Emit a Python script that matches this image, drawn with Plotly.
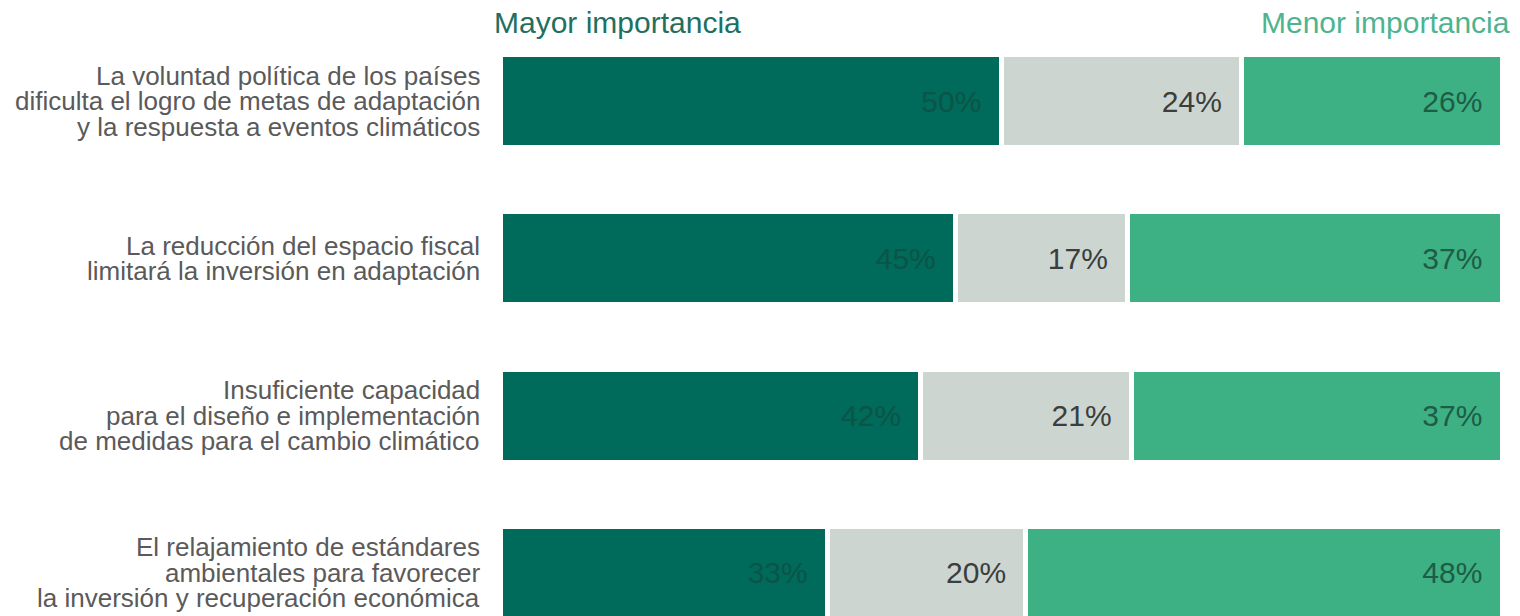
import plotly.graph_objects as go

categories = [
    "La voluntad política de los países<br>dificulta el logro de metas de adaptación<br>y la respuesta a eventos climáticos",
    "La reducción del espacio fiscal<br>limitará la inversión en adaptación",
    "Insuficiente capacidad<br>para el diseño e implementación<br>de medidas para el cambio climático",
    "El relajamiento de estándares<br>ambientales para favorecer<br>la inversión y recuperación económica",
]
cat_keys = ["c1", "c2", "c3", "c4"]
mayor = [50, 45, 42, 33]
neutral = [24, 17, 21, 20]
menor = [26, 37, 37, 48]
header_left = "Mayor importancia"
header_right = "Menor importancia"

FONT = "Liberation Sans, Arial, sans-serif"
NB = "\u00a0\u00a0"

series = [
    (mayor, "#006A5B", "#0B5446"),
    (neutral, "#CDD5D1", "#3A3E3C"),
    (menor, "#3DB183", "#1D5C47"),
]

fig = go.Figure()
for vals, col, tcol in series:
    fig.add_trace(go.Bar(
        y=cat_keys, x=vals, orientation="h",
        marker=dict(color=col, line=dict(color="white", width=5)),
        width=0.59,
        text=[f"{v}%" for v in vals],
        texttemplate="%{text}" + NB,
        textposition="inside", insidetextanchor="end",
        constraintext="none",
        textfont=dict(family=FONT, size=30, color=tcol),
        showlegend=False, hoverinfo="skip",
    ))

annotations = []
LINE = 25.5
for key, lab in zip(cat_keys, categories):
    lines = lab.split("<br>")
    n = len(lines)
    for i, ln in enumerate(lines):
        annotations.append(dict(
            text=ln, xref="paper", yref="y", x=0, y=key,
            xanchor="right", yanchor="middle", xshift=-18,
            yshift=((n - 1) / 2 - i) * LINE,
            showarrow=False,
            font=dict(family=FONT, size=26, color="#5A5A5A"),
        ))

annotations.append(dict(
    text=header_left, xref="paper", yref="paper", x=-0.008, y=1.031,
    xanchor="left", yanchor="middle", showarrow=False,
    font=dict(family=FONT, size=30, color="#21705F"),
))
annotations.append(dict(
    text=header_right, xref="paper", yref="paper", x=1.010, y=1.031,
    xanchor="right", yanchor="middle", showarrow=False,
    font=dict(family=FONT, size=30, color="#4DB48F"),
))

fig.update_layout(
    width=1520, height=616,
    barmode="stack", barnorm="percent",
    margin=dict(l=500, r=18, t=40, b=0),
    paper_bgcolor="white", plot_bgcolor="white",
    xaxis=dict(range=[0, 100], visible=False, fixedrange=True),
    yaxis=dict(type="category", categoryorder="array", categoryarray=cat_keys,
               range=[3.274, -0.388], showticklabels=False, showgrid=False,
               zeroline=False, showline=False, ticks=""),
    annotations=annotations,
    font=dict(family=FONT),
)

fig.write_html("out.html")
